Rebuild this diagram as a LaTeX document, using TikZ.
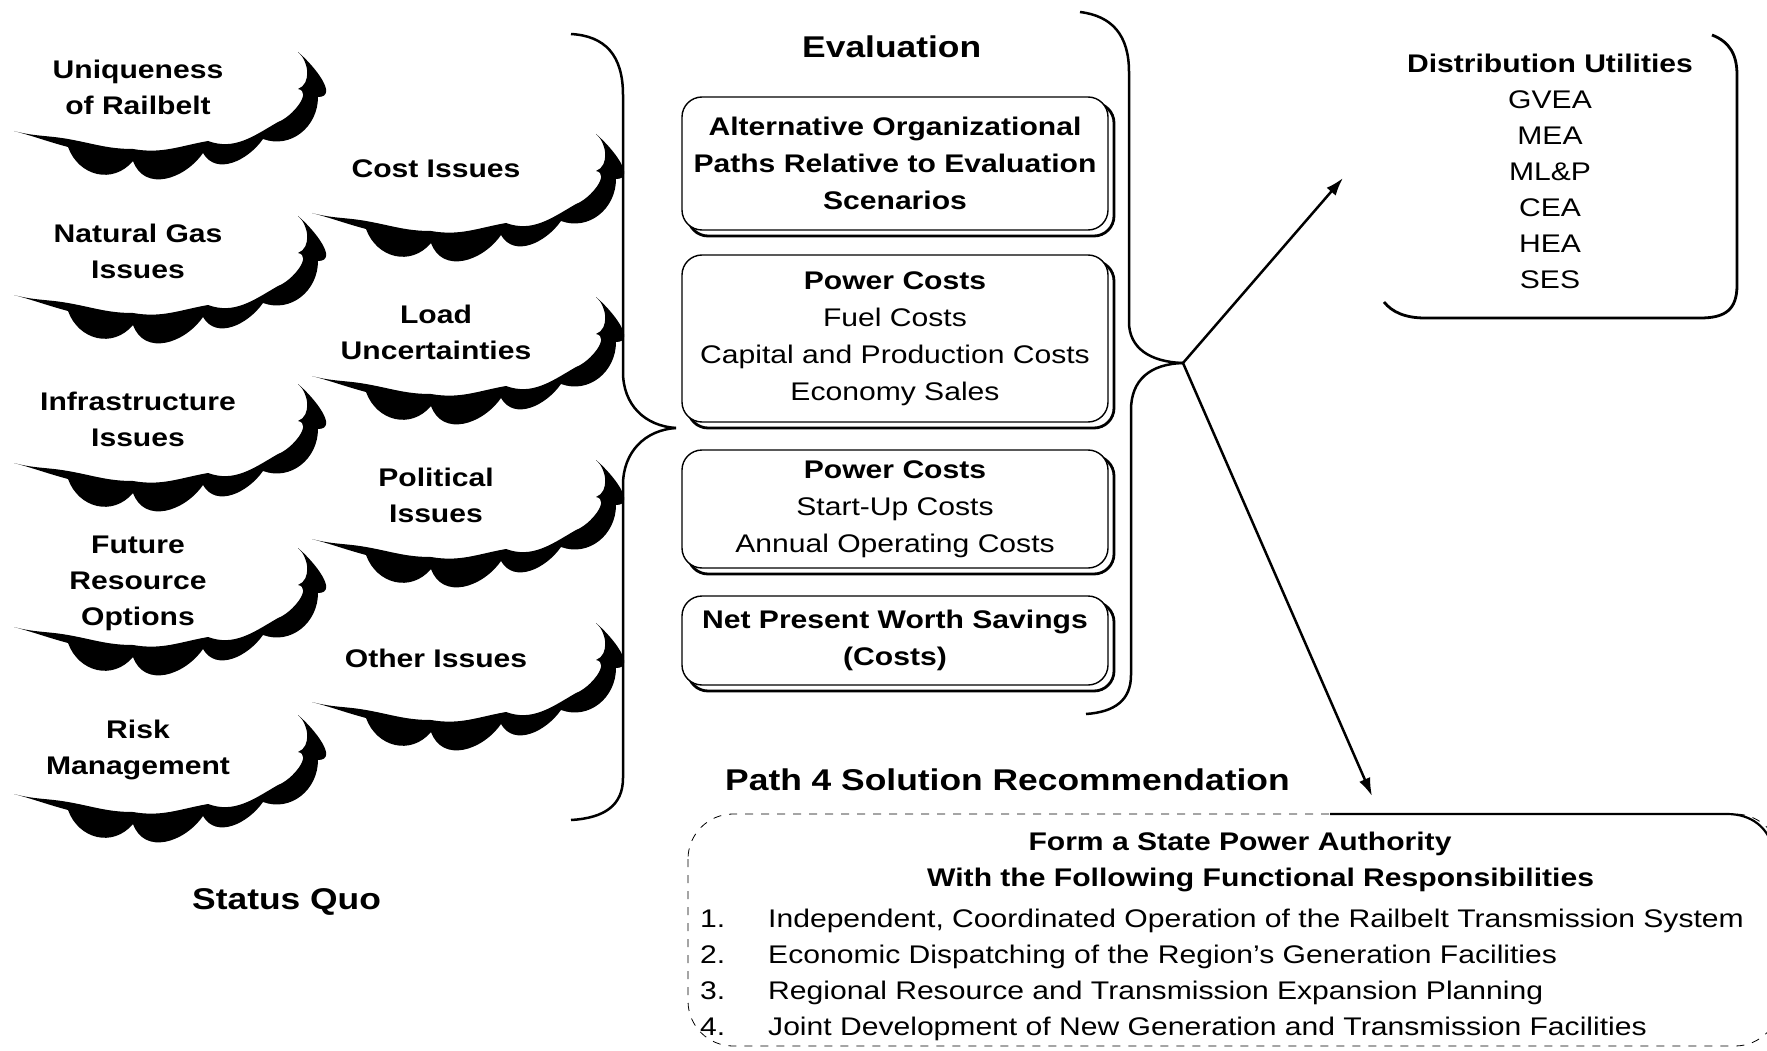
\documentclass[tikz,border=0pt]{standalone}
\usepackage{fontspec}
\setmainfont{Liberation Sans}[FakeStretch=1.18]
\usetikzlibrary{arrows.meta}
\newcommand\bodysize{\fontsize{25.5}{36}\selectfont}
\newcommand\boxsize{\fontsize{25.5}{37}\selectfont}
\newcommand\titlesize{\fontsize{30}{36}\selectfont\bfseries}
\newcommand\cloudshade[1]{%
\fill[shift={#1}] (-124,44) to[out=-15,in=165] (-70,60)
 to[out=-70,in=-130,looseness=1.2] (-5,74)
 to[out=-70,in=-125,looseness=1.2] (65,66)
 to[out=-60,in=-125,looseness=1.1] (125,52)
 to[out=-20,in=-90,looseness=1.1] (180,10)
 to[out=0,in=-40,looseness=1.1] (160,-35)
 to[out=-40,in=20] (160,2)
 to[out=-10,in=20] (140,35)
 to[out=-150,in=-20] (70,54)
 to[out=-170,in=-10] (-5,62)
 to[out=180,in=-10] (-70,52)
 to[out=170,in=-15] (-124,44) -- cycle;}
\tikzset{
 cloudtext/.style={font=\bodysize\bfseries, align=center, inner sep=0pt},
 evalbox/.style={draw, line width=1.4pt, fill=white, rounded corners=20pt,
   minimum width=426pt, align=center, font=\boxsize, inner sep=0pt,
   preaction={draw, line width=2.8pt, transform canvas={shift={(6,6)}}}},
 titletext/.style={font=\titlesize, inner sep=0pt},
 bodytext/.style={font=\bodysize, inner sep=0pt},
 bracepath/.style={line width=2.5pt},
 arrowline/.style={line width=2.5pt, -{Latex[length=18pt,width=12pt]}},
}
\begin{document}
\begin{tikzpicture}[x=1pt,y=-1pt]
\useasboundingbox (0,0) rectangle (1767,1051);
% ---- cloud shadows
\cloudshade{(138,87)}
\cloudshade{(138,251)}
\cloudshade{(138,419)}
\cloudshade{(138,583)}
\cloudshade{(138,750)}
\cloudshade{(436,169)}
\cloudshade{(436,332)}
\cloudshade{(436,495)}
\cloudshade{(436,658)}
% ---- cloud texts
\node[cloudtext] (c1) at (138,87) {Uniqueness\\of Railbelt};
\node[cloudtext] (c2) at (138,251) {Natural Gas\\Issues};
\node[cloudtext] (c3) at (138,419) {Infrastructure\\Issues};
\node[cloudtext] (c4) at (138,583) {Future\\Resource\\Options};
\node[cloudtext] (c5) at (138,750) {Risk\\Management};
\node[cloudtext] (d1) at (436,169) {Cost Issues};
\node[cloudtext] (d2) at (436,332) {Load\\Uncertainties};
\node[cloudtext] (d3) at (436,495) {Political\\Issues};
\node[cloudtext] (d4) at (436,658) {Other Issues};
% ---- left brace
\coordinate (lp) at (676,428);
\draw[bracepath] (571,34) .. controls (605,36) and (623,55) .. (623,95) -- (623,372)
  .. controls (623,405) and (645,426) .. (lp);
\draw[bracepath] (lp) .. controls (645,430) and (623,452) .. (623,485) -- (623,778)
  .. controls (623,805) and (605,818) .. (571,820);
% ---- evaluation
\node[titletext, anchor=base west] (evt) at (802,58) {Evaluation};
\node[evalbox, font=\boxsize\bfseries, minimum height=133pt] (b1) at (895,163.5)
  {Alternative Organizational\\Paths Relative to Evaluation\\Scenarios};
\node[evalbox, minimum height=167pt] (b2) at (895,338.5)
  {\textbf{Power Costs}\\Fuel Costs\\Capital and Production Costs\\Economy Sales};
\node[evalbox, minimum height=118pt] (b3) at (895,509)
  {\textbf{Power Costs}\\Start-Up Costs\\Annual Operating Costs};
\node[evalbox, font=\boxsize\bfseries, minimum height=89pt] (b4) at (895,640.5)
  {Net Present Worth Savings\\(Costs)};
% ---- right brace
\coordinate (rp) at (1183,363);
\draw[bracepath] (1080,12) .. controls (1112,16) and (1129,35) .. (1129,72) -- (1129,322)
  .. controls (1129,348) and (1150,362) .. (rp);
\draw[bracepath] (rp) .. controls (1150,364) and (1131,380) .. (1131,410) -- (1131,675)
  .. controls (1131,700) and (1115,712) .. (1086,714);
% ---- distribution utilities
\draw[line width=2.8pt] (1712,35) .. controls (1730,42) and (1737,55) .. (1737,75) -- (1737,285)
  .. controls (1737,310) and (1725,318) .. (1700,318) -- (1425,318)
  .. controls (1405,318) and (1392,312) .. (1384,302);
\node[bodytext, align=center] (du) at (1550,171)
  {\textbf{Distribution Utilities}\\GVEA\\MEA\\ML\&P\\CEA\\HEA\\SES};
% ---- arrows
\coordinate (duend) at (1343,178);
\coordinate (recend) at (1372,796);
\draw[arrowline] (rp) -- (duend);
\draw[arrowline] (rp) -- (recend);
% ---- recommendation
\node[titletext, anchor=base west] (p4) at (725,790) {Path 4 Solution Recommendation};
\draw[line width=0.8pt, dash pattern=on 8pt off 8pt, rounded corners=45pt]
  (688,814) rectangle (1780,1046);
\draw[line width=2.2pt] (1330,814) -- (1727,814) .. controls (1752,814) and (1767,828) .. (1772,845);
\node[bodytext, font=\bodysize\bfseries, anchor=base] (r1) at (1240,850) {Form a State Power Authority};
\node[bodytext, font=\bodysize\bfseries, anchor=base west] (r2) at (927,886) {With the Following Functional Responsibilities};
\node[bodytext, anchor=base west] (n1) at (700,927) {1.};
\node[bodytext, anchor=base west] (n2) at (700,963) {2.};
\node[bodytext, anchor=base west] (n3) at (700,999) {3.};
\node[bodytext, anchor=base west] (n4) at (700,1035) {4.};
\node[bodytext, anchor=base west] (l1) at (768,927) {Independent, Coordinated Operation of the Railbelt Transmission System};
\node[bodytext, anchor=base west] (l2) at (768,963) {Economic Dispatching of the Region’s Generation Facilities};
\node[bodytext, anchor=base west] (l3) at (768,999) {Regional Resource and Transmission Expansion Planning};
\node[bodytext, anchor=base west] (l4) at (768,1035) {Joint Development of New Generation and Transmission Facilities};
% ---- status quo
\node[titletext, anchor=base west] (sq) at (192,909) {Status Quo};
\end{tikzpicture}
\end{document}
